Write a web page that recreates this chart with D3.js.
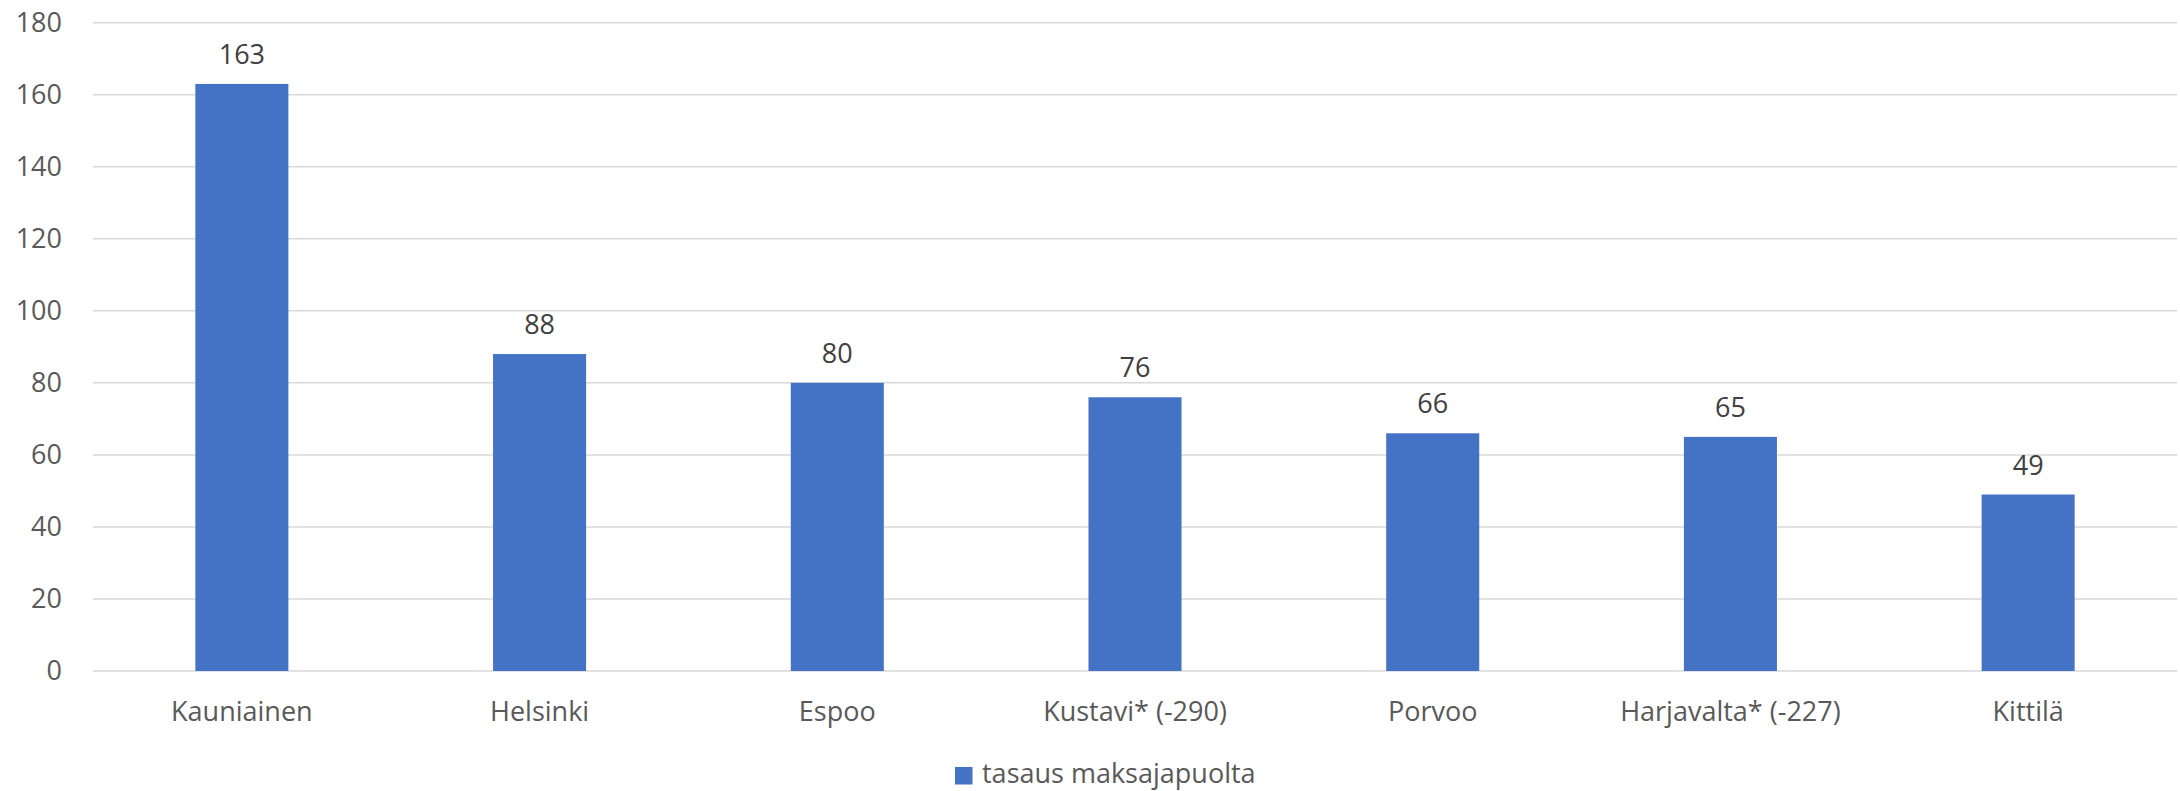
<!DOCTYPE html>
<html><head><meta charset="utf-8">
<script src="https://cdn.jsdelivr.net/npm/d3@7"></script>
<style>body{margin:0;background:#fff;} svg{display:block;}</style>
</head><body>
<script>
const categories = ["Kauniainen","Helsinki","Espoo","Kustavi* (-290)","Porvoo","Harjavalta* (-227)","Kittilä"];
const values = [163,88,80,76,66,65,49];
const yTicks = [0,20,40,60,80,100,120,140,160,180];
const seriesName = "tasaus maksajapuolta";

const W=2180,H=791;
const font = "'Open Sans', sans-serif";
const svg=d3.select("body").append("svg").attr("width",W).attr("height",H);
const x=d3.scaleBand().domain(categories).range([93,2177]).paddingInner(0.6875).paddingOuter(0.34375);
const y=d3.scaleLinear().domain([0,180]).range([671,22.7]);

const grid=svg.append("g");
grid.selectAll("line").data(yTicks).join("line")
 .attr("x1",93).attr("x2",2177).attr("y1",d=>y(d)).attr("y2",d=>y(d))
 .attr("stroke","#d9d9d9").attr("stroke-width",1.5);

const yAxis=svg.append("g").attr("transform","translate(93,0)")
 .call(d3.axisLeft(y).tickValues(yTicks).tickSize(0).tickPadding(31));
yAxis.select(".domain").remove();
yAxis.selectAll("text").attr("font-family",font).attr("font-size",27).attr("fill","#595959");

svg.append("g").selectAll("rect").data(values).join("rect")
 .attr("x",(d,i)=>x(categories[i])).attr("width",x.bandwidth())
 .attr("y",d=>y(d)).attr("height",d=>y(0)-y(d)).attr("fill","#4472c4");

svg.append("g").selectAll("text").data(values).join("text")
 .attr("x",(d,i)=>x(categories[i])+x.bandwidth()/2).attr("y",d=>y(d)-20)
 .attr("text-anchor","middle").attr("font-family",font).attr("font-size",27).attr("fill","#404040")
 .text(d=>d);

const xAxis=svg.append("g").attr("transform","translate(0,671)")
 .call(d3.axisBottom(x).tickSize(0).tickPadding(31));
xAxis.select(".domain").remove();
xAxis.selectAll("text").attr("font-family",font).attr("font-size",27).attr("fill","#595959");

const lg=svg.append("g");
lg.append("rect").attr("x",955).attr("y",767).attr("width",17.5).attr("height",17.5).attr("fill","#4472c4");
lg.append("text").attr("x",982).attr("y",783).attr("font-family",font).attr("font-size",27).attr("fill","#595959").text(seriesName);
</script>
</body></html>
